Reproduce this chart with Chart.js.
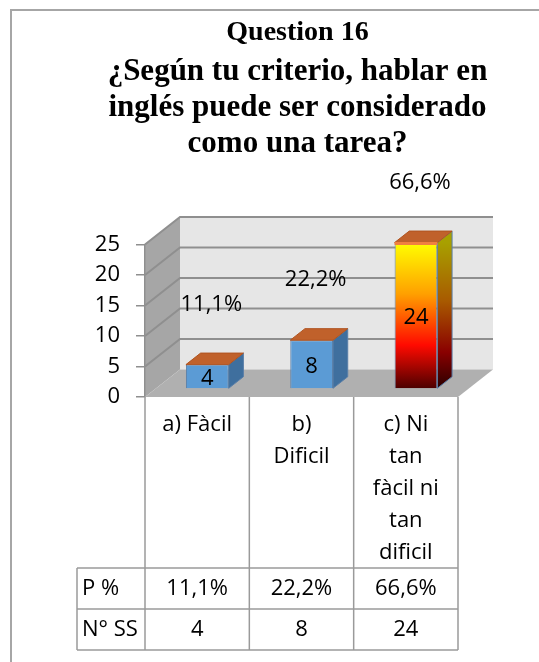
<!DOCTYPE html>
<html>
<head>
<meta charset="utf-8">
<script src="https://cdn.jsdelivr.net/npm/chart.js@4/dist/chart.umd.min.js"></script>
<style>
  html, body { margin: 0; padding: 0; background: #fff; overflow: hidden; }
  canvas { display: block; }
</style>
</head>
<body>
<canvas id="chart" width="539" height="662"></canvas>
<script>
// Chart data
const titleText = 'Question 16';
const questionLines = ['¿Según tu criterio, hablar en', 'inglés puede ser considerado', 'como una tarea?'];
const categories = ['a) Fàcil', ['b)', 'Dificil'], ['c) Ni', 'tan', 'fàcil ni', 'tan', 'dificil']];
const counts = [4, 8, 24];
const percents = [11.1, 22.2, 66.6];
const yTicks = [0, 5, 10, 15, 20, 25];
const rowLabels = ['P %', 'N° SS'];

const labelFont = '22px "Open Sans"';
const gridGray = '#8f8f8f';

// depth of the 3D box and where the bars sit inside it
const DEPTH_X = 35, DEPTH_Y = -27.5;
const BAR_START = 0.29, BAR_DEPTH = 0.42;

function fmtPct(v) {
  return v.toFixed(1).replace('.', ',') + '%';
}

function poly(ctx, pts, fill, stroke) {
  ctx.beginPath();
  ctx.moveTo(pts[0][0], pts[0][1]);
  for (let i = 1; i < pts.length; i++) ctx.lineTo(pts[i][0], pts[i][1]);
  ctx.closePath();
  if (fill) { ctx.fillStyle = fill; ctx.fill(); }
  if (stroke) { ctx.strokeStyle = stroke; ctx.lineWidth = 1; ctx.stroke(); }
}

function line(ctx, x1, y1, x2, y2) {
  ctx.beginPath();
  ctx.moveTo(x1, y1);
  ctx.lineTo(x2, y2);
  ctx.stroke();
}

// front face colour: blue, last bar gets the fire gradient
function barColor(context) {
  const chart = context.chart;
  if (context.dataIndex !== 2) return '#5b9bd5';
  if (!chart.chartArea) return '#ff3000';
  const y = chart.scales.y;
  const g = chart.ctx.createLinearGradient(0, y.getPixelForValue(counts[2]), 0, y.getPixelForValue(0));
  g.addColorStop(0, '#ffff00');
  g.addColorStop(0.35, '#ffa000');
  g.addColorStop(0.7, '#ff0a00');
  g.addColorStop(1, '#4a0000');
  return g;
}

function sideColor(chart, i, top, base) {
  if (i !== 2) return '#3f6f9e';
  const g = chart.ctx.createLinearGradient(0, top, 0, base);
  g.addColorStop(0, '#a8a000');
  g.addColorStop(0.4, '#a85a00');
  g.addColorStop(0.75, '#8a0000');
  g.addColorStop(1, '#2a0000');
  return g;
}

const threeD = {
  id: 'threeD',
  beforeDraw(chart) {
    const { ctx, chartArea: a, scales: { y } } = chart;
    const dx = DEPTH_X, dy = DEPTH_Y;
    ctx.save();
    // outer frame
    ctx.strokeStyle = '#a6a6a6';
    ctx.lineWidth = 2;
    ctx.beginPath();
    ctx.moveTo(11, chart.height);
    ctx.lineTo(11, 10);
    ctx.lineTo(chart.width, 10);
    ctx.stroke();

    // walls and floor
    poly(ctx, [[a.left, a.top], [a.left + dx, a.top + dy], [a.left + dx, a.bottom + dy], [a.left, a.bottom]], '#a6a6a6');
    ctx.fillStyle = '#e6e6e6';
    ctx.fillRect(a.left + dx, a.top + dy, a.right - a.left, a.bottom - a.top);
    poly(ctx, [[a.left, a.bottom], [a.right, a.bottom], [a.right + dx, a.bottom + dy], [a.left + dx, a.bottom + dy]], '#b0b0b0');

    // gridlines on side and back walls
    ctx.strokeStyle = gridGray;
    ctx.lineWidth = 2;
    yTicks.forEach(v => {
      if (v === 0) return;
      const py = y.getPixelForValue(v);
      ctx.beginPath();
      ctx.moveTo(a.left, py);
      ctx.lineTo(a.left + dx, py + dy);
      ctx.lineTo(a.right + dx, py + dy);
      ctx.stroke();
    });
    ctx.restore();
  },
  beforeDatasetsDraw(chart) {
    chart.ctx.save();
    chart.ctx.translate(DEPTH_X * BAR_START, DEPTH_Y * BAR_START);
  },
  afterDatasetsDraw(chart) {
    const ctx = chart.ctx;
    const bdx = DEPTH_X * BAR_DEPTH, bdy = DEPTH_Y * BAR_DEPTH;
    chart.getDatasetMeta(0).data.forEach((bar, i) => {
      const l = bar.x - bar.width / 2, r = bar.x + bar.width / 2;
      const t = bar.y, b = bar.base;
      poly(ctx, [[r, t], [r + bdx, t + bdy], [r + bdx, b + bdy], [r, b]], sideColor(chart, i, t, b), '#5a7fa8');
      poly(ctx, [[l, t], [r, t], [r + bdx, t + bdy], [l + bdx, t + bdy]], '#c0612b', '#b05420');
      if (i === 2) {
        ctx.strokeStyle = '#f08040';
        ctx.lineWidth = 3;
        line(ctx, l, t + 1, r, t + 1);
      }
      // value and percent labels
      ctx.fillStyle = '#000';
      ctx.font = labelFont;
      ctx.textAlign = 'center';
      ctx.textBaseline = 'middle';
      ctx.fillText(String(counts[i]), bar.x, (t + b) / 2 + 2);
      ctx.fillText(fmtPct(percents[i]), bar.x + 4, t - 60);
    });
    ctx.restore();
  },
  afterDraw(chart) {
    const { ctx, chartArea: a, scales: { x } } = chart;
    const cw = x.getPixelForValue(1) - x.getPixelForValue(0);
    const bounds = [0, 1, 2, 3].map(i => x.getPixelForValue(0) - cw / 2 + i * cw);
    const tableBottom = chart.height - 12;
    const rowH = 41;
    const rowTop = tableBottom - rowH * rowLabels.length;
    const tableLeft = a.left - 68;

    ctx.save();
    ctx.strokeStyle = '#9a9a9a';
    ctx.lineWidth = 1.5;
    bounds.forEach(bx => line(ctx, bx, a.bottom, bx, tableBottom));
    line(ctx, tableLeft, rowTop, tableLeft, tableBottom);
    for (let r = 0; r <= rowLabels.length; r++) {
      line(ctx, tableLeft, rowTop + r * rowH, bounds[3], rowTop + r * rowH);
    }

    ctx.fillStyle = '#000';
    ctx.font = labelFont;
    ctx.textBaseline = 'middle';
    const rows = [percents.map(fmtPct), counts.map(String)];
    rowLabels.forEach((lab, r) => {
      const cy = rowTop + r * rowH + rowH / 2;
      ctx.textAlign = 'left';
      ctx.fillText(lab, tableLeft + 5, cy);
      ctx.textAlign = 'center';
      rows[r].forEach((v, i) => ctx.fillText(v, x.getPixelForValue(i), cy));
    });
    ctx.restore();
  }
};

new Chart(document.getElementById('chart'), {
  type: 'bar',
  data: {
    labels: categories,
    datasets: [{
      data: counts,
      backgroundColor: barColor,
      borderColor: '#5a7fa8',
      borderWidth: 1,
      categoryPercentage: 1,
      barPercentage: 0.41,
      clip: false
    }]
  },
  options: {
    responsive: false,
    animation: false,
    devicePixelRatio: 1,
    layout: { padding: { left: 56, right: 0, top: 0, bottom: 0 } },
    plugins: {
      legend: { display: false },
      tooltip: { enabled: false },
      title: {
        display: true,
        text: titleText,
        color: '#000',
        font: { family: 'Liberation Serif', size: 28, weight: 'bold', lineHeight: 1.2 },
        padding: { top: 16, bottom: 4 }
      },
      subtitle: {
        display: true,
        text: questionLines,
        color: '#000',
        font: { family: 'Liberation Serif', size: 31, weight: 'bold', lineHeight: 1.16 },
        padding: { top: 0, bottom: 83 }
      }
    },
    scales: {
      x: {
        offset: true,
        grid: { display: false },
        border: { display: false },
        ticks: { color: '#000', font: { family: 'Open Sans', size: 22, lineHeight: 1.455 }, padding: 4, maxRotation: 0, autoSkip: false },
        afterFit(s) { s.height = 265; }
      },
      y: {
        min: 0,
        max: 25,
        ticks: { stepSize: 5, color: '#000', font: { family: 'Open Sans', size: 22 }, padding: 16 },
        grid: { drawOnChartArea: false, drawTicks: true, tickLength: 9, color: gridGray, lineWidth: 1.5 },
        border: { display: true, color: gridGray, width: 1.5 },
        afterFit(s) { s.width = 89; }
      },
      // empty right-hand axis that keeps room for the depth of the 3D box
      yRight: {
        position: 'right',
        min: 0,
        max: 25,
        ticks: { display: false },
        grid: { display: false },
        border: { display: false },
        afterFit(s) { s.width = 81; }
      }
    }
  },
  plugins: [threeD]
});
</script>
</body>
</html>
